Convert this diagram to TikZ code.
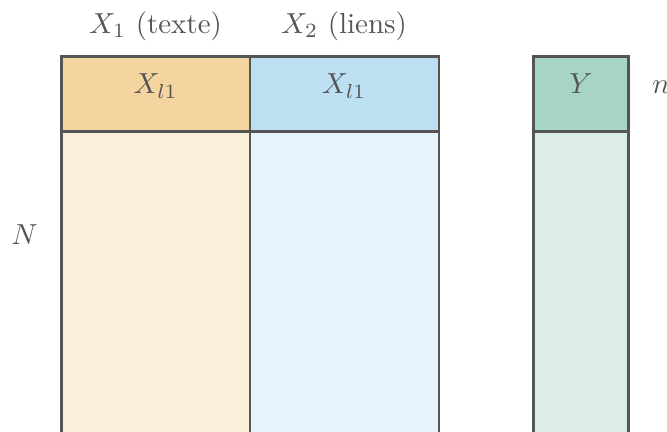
\documentclass[tikz,border=0pt]{standalone}
\usepackage{xcolor}
\definecolor{edge}{HTML}{555555}
\definecolor{ink}{HTML}{555555}
\definecolor{orangeH}{HTML}{F4D49F}
\definecolor{orangeB}{HTML}{FAEFD9}
\definecolor{blueH}{HTML}{BDDFF2}
\definecolor{blueB}{HTML}{E5F4FB}
\definecolor{greenH}{HTML}{A6D5C4}
\definecolor{greenB}{HTML}{DCEDE6}
\begin{document}
\begin{tikzpicture}[x=0.345pt,y=-0.345pt,
  cell/.style={draw=edge,line width=0.95pt},
  lbl/.style={text=ink,inner sep=0pt,anchor=base}]
\useasboundingbox (0,0) rectangle (667,432);
\begin{scope}
\clip (0,0) rectangle (667,432);
% bodies
\draw[cell,fill=orangeB] (61.5,131.5) rectangle (250,460);
\draw[cell,fill=blueB] (250,131.5) rectangle (439,460);
\draw[cell,fill=greenB] (533.5,131.5) rectangle (628.5,460);
% headers
\draw[cell,fill=orangeH] (61.5,56.5) rectangle (250,131.5);
\draw[cell,fill=blueH] (250,56.5) rectangle (439,131.5);
\draw[cell,fill=greenH] (533.5,56.5) rectangle (628.5,131.5);
% labels
\node[lbl] (t1) at (155.5,33.5) {$X_1$ (texte)};
\node[lbl] (t2) at (344,33.5) {$X_2$ (liens)};
\node[lbl] (h1) at (155.5,94) {$X_{l1}$};
\node[lbl] (h2) at (344,94) {$X_{l1}$};
\node[lbl] (hy) at (581,93.5) {$Y$};
\node[lbl] (n) at (661,93.5) {$n$};
\node[lbl] (N) at (24.5,245) {$N$};
\end{scope}
\end{tikzpicture}
\end{document}
